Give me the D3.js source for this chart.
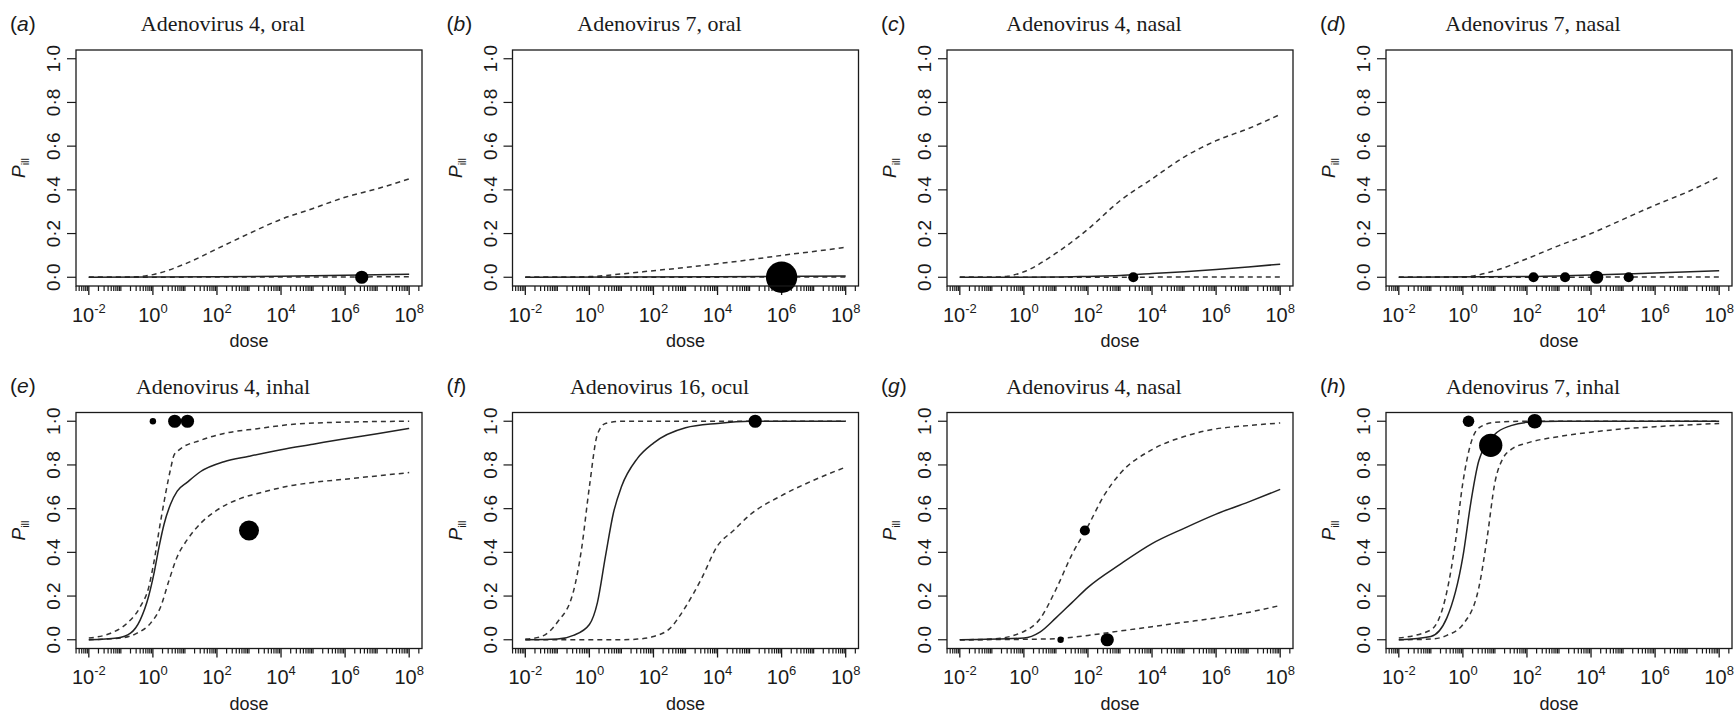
<!DOCTYPE html>
<html>
<head>
<meta charset="utf-8">
<script src="https://cdn.jsdelivr.net/npm/d3@7"></script>
<style>
  body { margin: 0; background: #fff; }
  svg { display: block; }
</style>
</head>
<body>
<div id="chart-area"></div>
<script>
// Panel text
const titles = ['Adenovirus 4, oral', 'Adenovirus 7, oral', 'Adenovirus 4, nasal', 'Adenovirus 7, nasal',
	'Adenovirus 4, inhal', 'Adenovirus 16, ocul', 'Adenovirus 4, nasal', 'Adenovirus 7, inhal']
const letters = ['a', 'b', 'c', 'd', 'e', 'f', 'g', 'h']

// Axis ticks
const yTicks = [0, 0.2, 0.4, 0.6, 0.8, 1.0]
const yTickLabels = ['0·0', '0·2', '0·4', '0·6', '0·8', '1·0']
const xTicks = [1e-2, 1, 1e2, 1e4, 1e6, 1e8]
const xTickExps = ['-2', '0', '2', '4', '6', '8']

// Curves as [dose, P_ill]; points carry a weight n (marker area)
const aUpper = [[0.01, 0], [0.1, 0], [0.316, 0.002], [1, 0.012], [10, 0.061], [100, 0.13], [1e3, 0.2], [1e4, 0.265], [1e5, 0.315], [1e6, 0.366], [1e7, 0.405], [1e8, 0.45]]
const aMid = [[0.01, 0], [100, 0.002], [1e4, 0.005], [1e6, 0.009], [1e8, 0.014]]
const aLow = [[0.01, 0], [1e8, 0.002]]
const aPts = [{ dose: 3.3e6, p: 0, n: 17 }]

const bUpper = [[0.01, 0], [0.1, 0], [1, 0.003], [10, 0.015], [100, 0.03], [1e3, 0.045], [1e4, 0.062], [1e5, 0.08], [1e6, 0.1], [1e7, 0.118], [1e8, 0.137]]
const bMid = [[0.01, 0], [1e4, 0.002], [1e8, 0.006]]
const bLow = [[0.01, 0], [1e8, 0.001]]
const bPts = [{ dose: 1e6, p: 0, n: 96 }]

const cUpper = [[0.01, 0], [0.1, 0], [0.316, 0.005], [1, 0.025], [10, 0.11], [100, 0.22], [1e3, 0.35], [1e4, 0.45], [1e5, 0.55], [1e6, 0.625], [1e7, 0.68], [1e8, 0.745]]
const cMid = [[0.01, 0], [10, 0.001], [100, 0.004], [1e3, 0.008], [1e4, 0.017], [1e5, 0.025], [1e6, 0.035], [1e7, 0.047], [1e8, 0.06]]
const cLow = [[0.01, 0], [1e8, 0.001]]
const cPts = [{ dose: 2600, p: 0, n: 10 }]

const dUpper = [[0.01, 0], [1, 0.002], [10, 0.03], [100, 0.085], [1e3, 0.145], [1e4, 0.2], [1e5, 0.265], [1e6, 0.33], [1e7, 0.39], [1e8, 0.46]]
const dMid = [[0.01, 0], [100, 0.003], [1e4, 0.01], [1e6, 0.02], [1e8, 0.03]]
const dLow = [[0.01, 0], [1e8, 0.001]]
const dPts = [{ dose: 160, p: 0, n: 10 }, { dose: 1550, p: 0, n: 10 }, { dose: 15000, p: 0, n: 17 }, { dose: 1.5e5, p: 0, n: 10 }]

const eUpper = [[0.01, 0.008], [0.048, 0.03], [0.158, 0.076], [0.4, 0.15], [0.74, 0.24], [1, 0.33], [1.78, 0.55], [3.55, 0.78], [4.57, 0.845], [6.46, 0.868], [31, 0.913], [166, 0.944], [1820, 0.966], [2e4, 0.985], [1e6, 0.996], [1e8, 1.0]]
const eMid = [[0.01, 0], [0.078, 0.008], [0.2, 0.03], [0.4, 0.09], [0.74, 0.2], [1.07, 0.3], [1.58, 0.43], [2.24, 0.53], [3.55, 0.62], [5.75, 0.68], [11.7, 0.72], [31, 0.77], [166, 0.815], [1e3, 0.84], [1e4, 0.87], [1e5, 0.895], [1e6, 0.92], [1e7, 0.943], [1e8, 0.967]]
const eLow = [[0.01, 0], [0.098, 0.008], [0.32, 0.03], [0.85, 0.076], [1.74, 0.15], [3.16, 0.27], [5.75, 0.38], [11.7, 0.457], [31, 0.533], [102, 0.594], [550, 0.647], [2950, 0.677], [2e4, 0.705], [1e5, 0.72], [1e6, 0.735], [1e7, 0.75], [1e8, 0.765]]
const ePts = [{ dose: 1, p: 1, n: 4 }, { dose: 4.8, p: 1, n: 17 }, { dose: 12, p: 1, n: 17 }, { dose: 1000, p: 0.5, n: 39 }]

const fUpper = [[0.01, 0.003], [0.0316, 0.015], [0.1, 0.08], [0.316, 0.22], [0.562, 0.41], [1, 0.7], [1.78, 0.94], [3.16, 0.99], [10, 1], [1e8, 1]]
const fMid = [[0.01, 0], [0.1, 0.003], [0.316, 0.02], [1, 0.07], [1.78, 0.17], [3.16, 0.38], [5.62, 0.58], [10, 0.7], [31.6, 0.83], [100, 0.9], [1e3, 0.97], [1e4, 0.99], [1e5, 1], [1e8, 1]]
const fLow = [[0.01, 0], [10, 0], [31.6, 0.003], [100, 0.015], [316, 0.05], [1e3, 0.15], [3160, 0.28], [1e4, 0.43], [31600, 0.5], [1e5, 0.57], [1e6, 0.66], [1e7, 0.73], [1e8, 0.79]]
const fPts = [{ dose: 1.5e5, p: 1, n: 17 }]

const gUpper = [[0.01, 0], [0.1, 0.003], [1, 0.038], [3.16, 0.095], [10, 0.23], [31.6, 0.39], [100, 0.52], [316, 0.66], [1e3, 0.76], [1e4, 0.87], [1e5, 0.93], [1e6, 0.965], [1e7, 0.98], [1e8, 0.992]]
const gMid = [[0.01, 0], [1, 0.008], [3.16, 0.035], [10, 0.1], [31.6, 0.17], [100, 0.24], [1e3, 0.345], [1e4, 0.44], [1e5, 0.51], [1e6, 0.575], [1e7, 0.63], [1e8, 0.688]]
const gLow = [[0.01, 0], [1, 0.002], [10, 0.005], [100, 0.02], [1e3, 0.04], [1e4, 0.06], [1e5, 0.08], [1e6, 0.1], [1e7, 0.125], [1e8, 0.157]]
const gPts = [{ dose: 14, p: 0, n: 4 }, { dose: 80, p: 0.5, n: 10 }, { dose: 400, p: 0, n: 17 }]

const hUpper = [[0.01, 0.008], [0.1, 0.045], [0.316, 0.22], [0.562, 0.43], [1, 0.72], [1.78, 0.9], [3.16, 0.97], [10, 0.995], [100, 1], [1e8, 1]]
const hMid = [[0.01, 0], [0.1, 0.015], [0.316, 0.1], [1, 0.38], [1.78, 0.63], [3.16, 0.82], [10, 0.94], [31.6, 0.98], [100, 0.995], [1e3, 1], [1e8, 1]]
const hLow = [[0.01, 0], [0.1, 0.003], [0.316, 0.02], [1, 0.07], [3.16, 0.24], [5.62, 0.46], [10, 0.72], [17.8, 0.83], [31.6, 0.87], [100, 0.9], [1e3, 0.93], [1e4, 0.95], [1e5, 0.965], [1e6, 0.975], [1e7, 0.983], [1e8, 0.99]]
const hPts = [{ dose: 1.5, p: 1, n: 13 }, { dose: 7.4, p: 0.89, n: 53 }, { dose: 175, p: 1, n: 21 }]

const panels = [
	{ upper: aUpper, mid: aMid, low: aLow, pts: aPts },
	{ upper: bUpper, mid: bMid, low: bLow, pts: bPts },
	{ upper: cUpper, mid: cMid, low: cLow, pts: cPts },
	{ upper: dUpper, mid: dMid, low: dLow, pts: dPts },
	{ upper: eUpper, mid: eMid, low: eLow, pts: ePts },
	{ upper: fUpper, mid: fMid, low: fLow, pts: fPts },
	{ upper: gUpper, mid: gMid, low: gLow, pts: gPts },
	{ upper: hUpper, mid: hMid, low: hLow, pts: hPts }
]

// Layout
const W = 1736, H = 721
const BOX_W = 346, BOX_H = 236
const COL_X = [76, 512.5, 947, 1386]
const ROW_Y = [50, 412.5]
const INK = '#1a1a1a'

const svg = d3.select('#chart-area').append('svg')
	.attr('width', W)
	.attr('height', H)
	.style('background', '#fff')

// scales (R style 4% padding on each side)
const x = d3.scaleLog()
	.domain([Math.pow(10, -2.4), Math.pow(10, 8.4)])
	.range([0, BOX_W])
const y = d3.scaleLinear()
	.domain([-0.04, 1.04])
	.range([BOX_H, 0])
const r = d3.scaleSqrt()
	.domain([0, 100])
	.range([0, 16])

const line = d3.line()
	.x(d => x(d[0]))
	.y(d => y(d[1]))
	.curve(d3.curveMonotoneX)

// minor ticks: 1..9 x 10^k inside the domain
const minorTicks = []
for (let k = -3; k <= 8; k++) {
	for (let m = 1; m <= 9; m++) {
		const v = m * Math.pow(10, k)
		if (v >= x.domain()[0] && v <= x.domain()[1] && !(m === 1 && k % 2 === 0 && k >= -2)) minorTicks.push(v)
	}
}

panels.forEach((p, i) => {
	const col = i % 4, row = Math.floor(i / 4)
	const g = svg.append('g')
		.attr('transform', `translate(${COL_X[col]}, ${ROW_Y[row]})`)

	// panel letter
	g.append('text')
		.attr('x', -66)
		.attr('y', -19.5)
		.attr('font-family', 'Liberation Sans, Arial, sans-serif')
		.attr('font-size', '21px')
		.attr('fill', INK)
		.html(`(<tspan font-style="italic">${letters[i]}</tspan>)`)

	// title
	g.append('text')
		.attr('x', 147)
		.attr('y', -19)
		.attr('text-anchor', 'middle')
		.attr('font-family', 'Liberation Serif, Times New Roman, serif')
		.attr('font-size', '22px')
		.attr('fill', INK)
		.text(titles[i])

	// y axis
	const yAxisGroup = g.append('g')
	yAxisGroup.selectAll('line')
		.data(yTicks)
		.enter().append('line')
		.attr('x1', -9).attr('x2', 0)
		.attr('y1', d => y(d)).attr('y2', d => y(d))
		.attr('stroke', INK).attr('stroke-width', 1.2)
	yAxisGroup.selectAll('text')
		.data(yTicks)
		.enter().append('text')
		.attr('transform', d => `translate(-16, ${y(d)}) rotate(-90)`)
		.attr('text-anchor', 'middle')
		.attr('font-family', 'Liberation Sans, Arial, sans-serif')
		.attr('font-size', '19px')
		.attr('fill', INK)
		.text((d, j) => yTickLabels[j])

	// y label P_ill
	g.append('text')
		.attr('transform', `translate(-51, ${BOX_H / 2}) rotate(-90)`)
		.attr('text-anchor', 'middle')
		.attr('font-family', 'Liberation Sans, Arial, sans-serif')
		.attr('font-size', '19px')
		.attr('fill', INK)
		.html('<tspan font-style="italic">P</tspan><tspan font-size="11px" dy="4">ill</tspan>')

	// x axis: minor rug-like ticks and labelled decades
	const xAxisGroup = g.append('g')
		.attr('transform', `translate(0, ${BOX_H})`)
	xAxisGroup.selectAll('line.minor')
		.data(minorTicks)
		.enter().append('line')
		.attr('class', 'minor')
		.attr('x1', d => x(d)).attr('x2', d => x(d))
		.attr('y1', 0).attr('y2', 5)
		.attr('stroke', INK).attr('stroke-width', 1.2)
	xAxisGroup.selectAll('line.major')
		.data(xTicks)
		.enter().append('line')
		.attr('class', 'major')
		.attr('x1', d => x(d)).attr('x2', d => x(d))
		.attr('y1', 0).attr('y2', 9)
		.attr('stroke', INK).attr('stroke-width', 1.3)
	xAxisGroup.selectAll('text')
		.data(xTicks)
		.enter().append('text')
		.attr('x', d => x(d))
		.attr('y', 35.5)
		.attr('text-anchor', 'middle')
		.attr('font-family', 'Liberation Sans, Arial, sans-serif')
		.attr('font-size', '20px')
		.attr('fill', INK)
		.html((d, j) => `10<tspan font-size="13px" dy="-9">${xTickExps[j]}</tspan>`)

	g.append('text')
		.attr('x', BOX_W / 2)
		.attr('y', BOX_H + 61)
		.attr('text-anchor', 'middle')
		.attr('font-family', 'Liberation Sans, Arial, sans-serif')
		.attr('font-size', '18px')
		.attr('fill', INK)
		.text('dose')

	// curves
	g.append('path')
		.attr('d', line(p.upper))
		.attr('fill', 'none').attr('stroke', '#333').attr('stroke-width', 1.5)
		.attr('stroke-dasharray', '5,4')
	g.append('path')
		.attr('d', line(p.low))
		.attr('fill', 'none').attr('stroke', '#333').attr('stroke-width', 1.5)
		.attr('stroke-dasharray', '5,4')
	g.append('path')
		.attr('d', line(p.mid))
		.attr('fill', 'none').attr('stroke', '#222').attr('stroke-width', 1.5)

	// observed points
	g.selectAll('circle')
		.data(p.pts)
		.enter().append('circle')
		.attr('cx', d => x(d.dose))
		.attr('cy', d => y(d.p))
		.attr('r', d => r(d.n))
		.attr('fill', '#000')

	// box
	g.append('rect')
		.attr('width', BOX_W)
		.attr('height', BOX_H)
		.attr('fill', 'none')
		.attr('stroke', INK)
		.attr('stroke-width', 1.3)
})
</script>
</body>
</html>
